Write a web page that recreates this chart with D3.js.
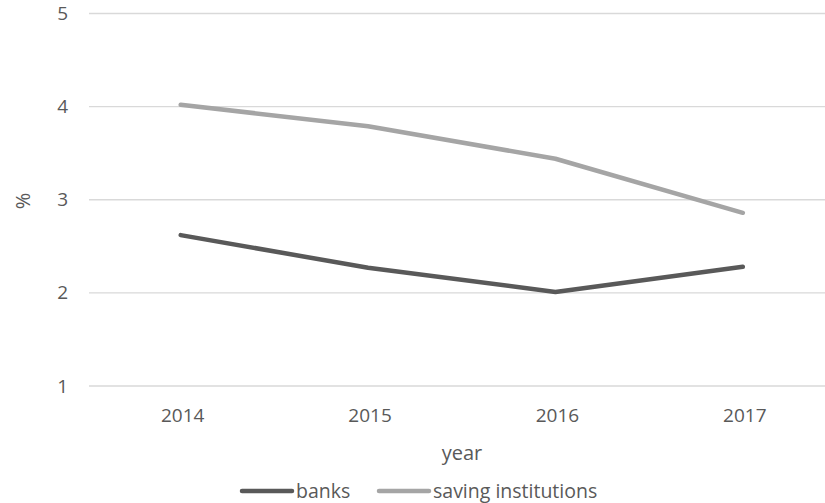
<!DOCTYPE html>
<html>
<head>
<meta charset="utf-8">
<script src="https://cdn.jsdelivr.net/npm/d3@7"></script>
<style>
  html, body { margin: 0; padding: 0; background: #fff; }
  svg { display: block; }
  text { font-family: "Open Sans", "Noto Sans", sans-serif; fill: #595959; }
</style>
</head>
<body>
<svg id="chart" width="825" height="503"></svg>
<script>
// Annual rates (%) by institution type
const years = ["2014", "2015", "2016", "2017"];
const banks = [2.62, 2.27, 2.01, 2.28];
const savingInstitutions = [4.02, 3.79, 3.44, 2.86];
const yTicks = [1, 2, 3, 4, 5];
const seriesNames = ["banks", "saving institutions"];
const seriesColors = ["#595959", "#a5a5a5"];

const svg = d3.select("#chart");

const x = d3.scaleBand().domain(years).range([87, 836.5]);
const y = d3.scaleLinear().domain([1, 5]).range([386, 13.5]);

// horizontal gridlines
svg.append("g")
  .selectAll("line")
  .data(yTicks)
  .join("line")
  .attr("x1", 89)
  .attr("x2", 825)
  .attr("y1", d => y(d))
  .attr("y2", d => y(d))
  .attr("stroke", "#d9d9d9")
  .attr("stroke-width", 1.3);

// y tick labels
const yAxis = d3.axisLeft(y).tickValues(yTicks).tickFormat(d3.format("d")).tickSize(0).tickPadding(0);
const gy = svg.append("g").attr("transform", "translate(68,0)").call(yAxis);
gy.select(".domain").remove();
gy.selectAll("text")
  .attr("font-size", 19)
  .attr("font-family", null)
  .attr("fill", "#595959");

// x tick labels
const xAxis = d3.axisBottom(x).tickSize(0).tickPadding(0);
const gx = svg.append("g").attr("transform", "translate(2,0)").call(xAxis);
gx.select(".domain").remove();
gx.selectAll("text")
  .attr("font-size", 19)
  .attr("font-family", null)
  .attr("fill", "#595959")
  .attr("y", 422)
  .attr("dy", null);

// axis titles
svg.append("text")
  .attr("x", 462)
  .attr("y", 460)
  .attr("text-anchor", "middle")
  .attr("font-size", 20)
  .text("year");

svg.append("text")
  .attr("transform", "translate(30,201) rotate(-90)")
  .attr("text-anchor", "middle")
  .attr("font-size", 20)
  .text("%");

// series lines
const line = d3.line()
  .x((d, i) => x(years[i]) + x.bandwidth() / 2)
  .y(d => y(d));

[banks, savingInstitutions].forEach((vals, k) => {
  svg.append("path")
    .datum(vals)
    .attr("fill", "none")
    .attr("stroke", seriesColors[k])
    .attr("stroke-width", 4.5)
    .attr("stroke-linecap", "round")
    .attr("stroke-linejoin", "round")
    .attr("d", line);
});

// legend
const legendX = [242, 379];
seriesNames.forEach((name, k) => {
  const g = svg.append("g").attr("transform", `translate(${legendX[k]},491)`);
  g.append("line")
    .attr("x1", 0).attr("x2", 50)
    .attr("y1", 0).attr("y2", 0)
    .attr("stroke", seriesColors[k])
    .attr("stroke-width", 4.5)
    .attr("stroke-linecap", "round");
  g.append("text")
    .attr("x", 54)
    .attr("y", 6.5)
    .attr("font-size", 19.5)
    .text(name);
});
</script>
</body>
</html>
